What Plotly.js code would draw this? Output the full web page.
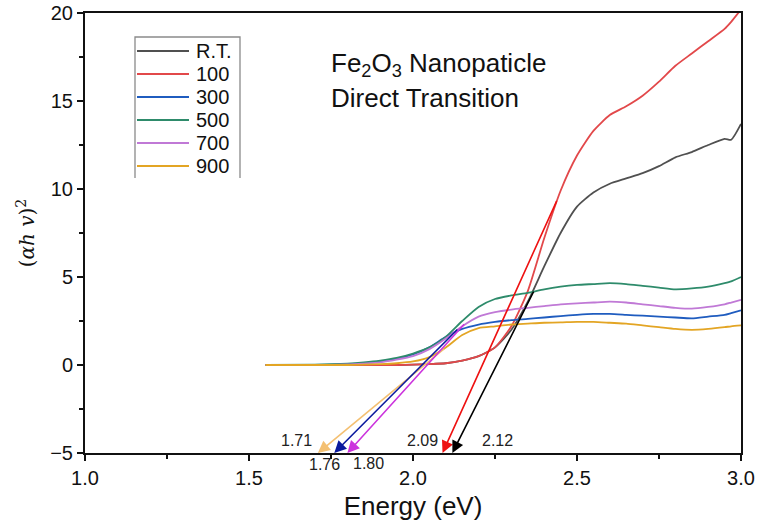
<!DOCTYPE html>
<html>
<head>
<meta charset="utf-8">
<script src="https://cdn.plot.ly/plotly-3.0.1.min.js"></script>
<style>html,body{margin:0;padding:0;background:#fff;}#chart{width:762px;height:527px;}</style>
</head>
<body>
<div id="chart"></div>
<script>
const energy = [1.55,1.70,1.80,1.85,1.90,1.95,2.00,2.05,2.10,2.15,2.20,2.25,2.30,2.35,2.40,2.45,2.50,2.55,2.60,2.65,2.70,2.75,2.80,2.85,2.90,2.95,2.97,3.00];
const seriesNames = ["R.T.","100","300","500","700","900"];
const rt   = [0,0,0,0,0,0,0.02,0.05,0.1,0.25,0.5,1.0,2.0,3.6,5.6,7.5,9.0,9.8,10.3,10.6,10.9,11.3,11.8,12.1,12.5,12.85,12.8,13.7];
const s100 = [0,0,0,0,0,0,0.02,0.05,0.1,0.25,0.5,1.0,2.2,4.2,7.2,9.9,11.9,13.3,14.2,14.7,15.3,16.1,17.0,17.7,18.4,19.1,19.5,20.2];
const s300 = [0,0,0.05,0.1,0.2,0.35,0.6,1.0,1.6,2.05,2.3,2.45,2.55,2.62,2.7,2.78,2.85,2.9,2.9,2.85,2.8,2.75,2.7,2.65,2.75,2.85,2.95,3.1];
const s500 = [0,0.02,0.08,0.15,0.25,0.4,0.65,1.0,1.6,2.5,3.3,3.75,3.95,4.1,4.3,4.45,4.55,4.6,4.65,4.6,4.5,4.4,4.3,4.35,4.45,4.65,4.75,5.0];
const s700 = [0,0,0.03,0.08,0.15,0.3,0.5,0.9,1.5,2.2,2.75,3.0,3.15,3.25,3.35,3.45,3.5,3.55,3.6,3.55,3.45,3.35,3.25,3.2,3.3,3.45,3.55,3.7];
const s900 = [0,0,0,0.02,0.05,0.1,0.2,0.45,1.0,1.7,2.1,2.2,2.3,2.35,2.4,2.42,2.45,2.45,2.4,2.35,2.25,2.15,2.05,2.0,2.05,2.15,2.2,2.25];
const seriesColors = ["#505050","#e2484a","#1f5cbf","#2e8b6b","#c079d6","#e3a524"];

// Tangent (extrapolation) arrows: head at band-gap value on y=-5, tail on curve
const gapValues = [1.71, 1.76, 1.80, 2.09, 2.12];
const gapLabels = ["1.71","1.76","1.80","2.09","2.12"];
const tailX = [2.10, 2.14, 2.16, 2.44, 2.37];
const tailY = [1.0, 2.1, 2.4, 9.4, 4.25];
const arrowColors = ["#f4c072","#0a1a9e","#cc33dd","#ee1111","#000000"];
const labelX = [1.645, 1.729, 1.863, 2.030, 2.259];
const labelY = [-4.30, -5.68, -5.57, -4.28, -4.28];
const yRange = [-5, 20];
const xRange = [1, 3];

const series = [rt, s100, s300, s500, s700, s900];
const traces = series.map((ys, i) => ({
  x: energy, y: ys, type: 'scatter', mode: 'lines', name: seriesNames[i],
  line: {color: seriesColors[i], width: 1.8, shape: 'spline', smoothing: 0.6},
  showlegend: false
}));

const FONT = 'Liberation Sans, Arial, sans-serif';
const annotations = [];
const shapes = [];
gapValues.forEach((g, i) => {
  annotations.push({
    x: g, y: yRange[0], xref: 'x', yref: 'y',
    ax: tailX[i], ay: tailY[i], axref: 'x', ayref: 'y',
    showarrow: true, arrowhead: 2, arrowsize: 1.5, arrowwidth: 1.6,
    arrowcolor: arrowColors[i], standoff: 0, text: ''
  });
  annotations.push({
    x: labelX[i], y: (labelY[i] - yRange[0]) / (yRange[1] - yRange[0]),
    xref: 'x', yref: 'paper', text: gapLabels[i], yanchor: 'middle',
    showarrow: false, font: {size: 16, color: '#222', family: FONT}
  });
});

// Title text inside plot
annotations.push({
  x: 0.372, y: 0.882, xref: 'paper', yref: 'paper', xanchor: 'left', yanchor: 'middle',
  text: 'Fe<sub>2</sub>O<sub>3</sub> Nanopaticle', showarrow: false,
  font: {size: 26, color: '#111', family: FONT}
});
annotations.push({
  x: 0.372, y: 0.807, xref: 'paper', yref: 'paper', xanchor: 'left', yanchor: 'middle',
  text: 'Direct Transition', showarrow: false,
  font: {size: 26, color: '#111', family: FONT}
});

// Legend drawn in paper coordinates (plot area 85..741 x 13..453 px)
const px2x = p => (p - 85) / 656;
const py2y = p => 1 - (p - 13) / 440;
shapes.push({type: 'path', xref: 'paper', yref: 'paper',
  path: `M${px2x(135)},${py2y(178)} L${px2x(135)},${py2y(37)} L${px2x(240)},${py2y(37)} L${px2x(240)},${py2y(178)}`,
  line: {color: '#8a8a8a', width: 1.3}});
seriesNames.forEach((n, i) => {
  const yy = py2y(51 + 23 * i);
  shapes.push({type: 'line', xref: 'paper', yref: 'paper', x0: px2x(137), x1: px2x(189), y0: yy, y1: yy,
    line: {color: seriesColors[i], width: 2}});
  annotations.push({x: px2x(194), y: yy, xref: 'paper', yref: 'paper', xanchor: 'left', yanchor: 'middle',
    text: n, showarrow: false, font: {size: 20, color: '#111', family: FONT}});
});

const layout = {
  width: 762, height: 527,
  margin: {l: 85, r: 21, t: 13, b: 74},
  paper_bgcolor: '#fff', plot_bgcolor: '#fff',
  font: {family: FONT, color: '#111', size: 16},
  showlegend: false,
  xaxis: {range: xRange, dtick: 0.5, tick0: 1, tickformat: '.1f',
    ticks: 'outside', ticklen: 6, tickwidth: 1.5, tickcolor: '#111',
    minor: {dtick: 0.25, ticks: 'outside', ticklen: 4, tickcolor: '#111', tickwidth: 1.2},
    showline: true, linecolor: '#111', linewidth: 2, mirror: true,
    showgrid: false, zeroline: false,
    title: {text: 'Energy (eV)', font: {size: 26}, standoff: 9},
    tickfont: {size: 20}},
  yaxis: {range: yRange, dtick: 5, tick0: 0,
    ticks: 'outside', ticklen: 6, tickwidth: 1.5, tickcolor: '#111',
    minor: {dtick: 2.5, ticks: 'outside', ticklen: 4, tickcolor: '#111', tickwidth: 1.2},
    showline: true, linecolor: '#111', linewidth: 2, mirror: true,
    showgrid: false, zeroline: false,
    title: {text: '(<i>αh v</i>)<sup>2</sup>', font: {size: 20, family: 'DejaVu Serif, serif'}, standoff: 10},
    tickfont: {size: 20}},
  annotations: annotations,
  shapes: shapes
};

Plotly.newPlot('chart', traces, layout, {displayModeBar: false, staticPlot: true});
</script>
</body>
</html>
